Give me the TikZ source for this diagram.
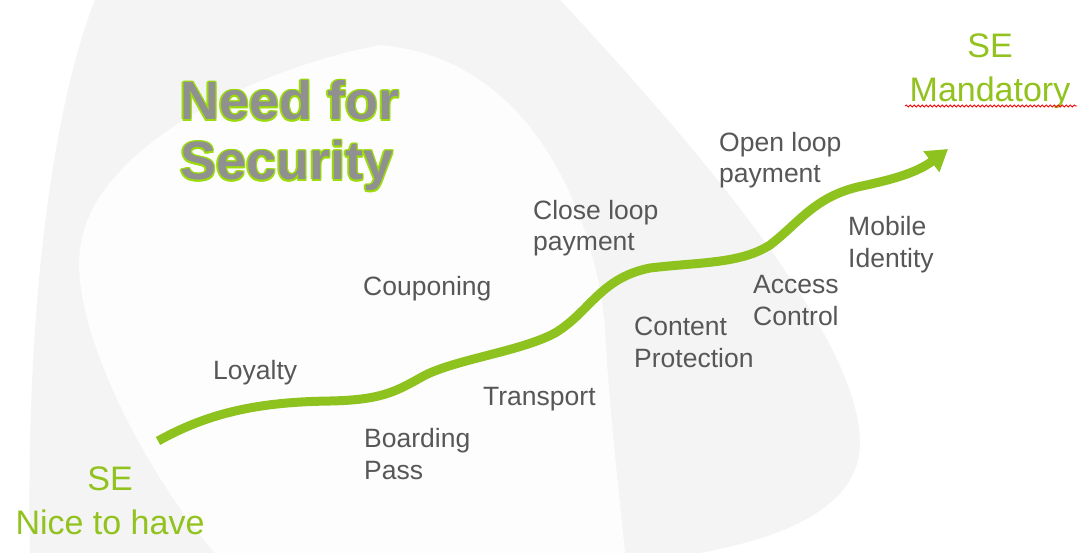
\documentclass[tikz,border=0pt]{standalone}
\usepackage{fontspec}
\setmainfont{Liberation Sans}
\usetikzlibrary{arrows.meta,decorations.pathmorphing}
\definecolor{bggrey}{HTML}{F4F4F4}
\definecolor{bgwhite}{HTML}{FDFDFD}
\definecolor{arrowgreen}{HTML}{8DC21F}
\definecolor{segreen}{HTML}{92C21E}
\definecolor{labelgrey}{HTML}{575757}
\definecolor{titlegrey}{HTML}{909090}
\definecolor{glow}{HTML}{9BDC0A}
\tikzset{
  lbl/.style={anchor=base west, inner sep=0pt, align=left, text=labelgrey,
    font=\fontsize{26.5}{31.5}\selectfont},
  selbl/.style={anchor=base, inner sep=0pt, align=center, text=segreen,
    font=\fontsize{34}{44}\selectfont},
  titletext/.style={anchor=base west, inner sep=0pt, align=left,
    font=\fontsize{54}{60}\selectfont\bfseries},
  growth/.style={draw=arrowgreen, line width=9pt, line cap=butt,
    -{Triangle[length=21pt,width=25pt]}},
}
\begin{document}
\begin{tikzpicture}[x=1pt,y=-1pt]
\path[use as bounding box, fill=white] (0,0) rectangle (1083,553);
% background swooshes
\fill[bggrey] (95,0) -- (560,0) .. controls (700,150) and (880,360) .. (858,460)
  .. controls (845,515) and (770,540) .. (700,553) -- (30,553)
  .. controls (25,300) and (55,100) .. (95,0) -- cycle;
\fill[bgwhite] (380,45) .. controls (550,60) and (600,250) .. (605,330)
  .. controls (610,420) and (620,500) .. (625,553) -- (215,553)
  .. controls (150,480) and (70,330) .. (80,250)
  .. controls (90,150) and (250,70) .. (380,45) -- cycle;
% title with green outline
\foreach \a in {0,45,...,315}{
  \node[titletext, text=glow, shift={(\a:1.5)}] at (180,180) {Need for\\Security};
}
\node[titletext, text=titlegrey] (title) at (180,180) {Need for\\Security};
% growth arrow
\coordinate (start) at (158,441);
\coordinate (finish) at (948,149);
\draw[growth] (start) .. controls (210,412) and (260,402) .. (330,401)
  .. controls (380,400) and (395,392) .. (420,378)
  .. controls (450,360) and (520,352) .. (555,333)
  .. controls (590,312) and (600,278) .. (650,268)
  .. controls (700,262) and (740,264) .. (770,245)
  .. controls (800,222) and (815,196) .. (862,186)
  .. controls (895,179) and (918,172) .. (finish);
% labels (base = baseline of the last line)
\node[lbl] (loyalty) at (213,379) {Loyalty};
\node[lbl] (couponing) at (363,295) {Couponing};
\node[lbl] (boarding) at (364,479) {Boarding\\Pass};
\node[lbl] (transport) at (483,405) {Transport};
\node[lbl] (closeloop) at (533,251) {Close loop\\payment};
\node[lbl] (content) at (634,367) {Content\\Protection};
\node[lbl] (openloop) at (719,183) {Open loop\\payment};
\node[lbl] (access) at (753,325) {Access\\Control};
\node[lbl] (mobile) at (848,267) {Mobile\\Identity};
% SE labels
\node[selbl] (semand) at (990,102) {SE\\Mandatory};
\node[selbl] (senice) at (110,534) {SE\\Nice to have};
\draw[red, line width=0.8pt, decorate, decoration={snake, amplitude=1.1pt, segment length=4pt}]
  (905,106) -- (1077,106);
\end{tikzpicture}
\end{document}
